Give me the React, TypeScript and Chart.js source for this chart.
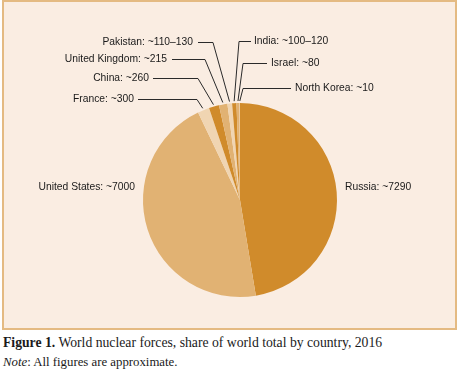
import React, { useEffect, useRef } from "react";
import { Chart, registerables } from "chart.js";

Chart.register(...registerables);

const countries = [
  "Russia",
  "United States",
  "France",
  "China",
  "United Kingdom",
  "Pakistan",
  "India",
  "Israel",
  "North Korea",
];
const warheads = [7290, 7000, 300, 260, 215, 120, 110, 80, 10];
const valueLabels = ["~7290", "~7000", "~300", "~260", "~215", "~110–130", "~100–120", "~80", "~10"];

const DARK = "#d08b2b";
const MID = "#e1b273";
const LIGHT = "#f0d5b2";
const sliceColors = [DARK, MID, LIGHT, DARK, MID, LIGHT, DARK, MID, LIGHT];

// label layout: text anchor (x, y, align) and optional elbow
type LabelLayout = { tx: number; ty: number; align: "left" | "right"; line?: [number, number, number] };
const labelLayout: LabelLayout[] = [
  { tx: 345, ty: 187, align: "left" },
  { tx: 135, ty: 187, align: "right" },
  { tx: 134, ty: 99, align: "right", line: [138, 197, 99] },
  { tx: 149, ty: 78, align: "right", line: [153, 198, 78] },
  { tx: 167, ty: 59, align: "right", line: [172, 205, 59] },
  { tx: 193, ty: 42, align: "right", line: [198, 213, 42] },
  { tx: 254, ty: 41, align: "left", line: [251, 239, 41] },
  { tx: 271, ty: 63, align: "left", line: [267, 243, 63] },
  { tx: 295, ty: 88, align: "left", line: [291, 243, 88] },
];

const labelPlugin = {
  id: "leaderLabels",
  afterDatasetsDraw(chart: any) {
    const ctx = chart.ctx as CanvasRenderingContext2D;
    const meta = chart.getDatasetMeta(0);
    ctx.save();
    ctx.font = '10.3px "Liberation Sans", Arial, sans-serif';
    ctx.fillStyle = "#1a1a1a";
    ctx.strokeStyle = "#2a2a2a";
    ctx.lineWidth = 1;
    ctx.textBaseline = "middle";
    meta.data.forEach((arc: any, i: number) => {
      const lay = labelLayout[i];
      const text = `${countries[i]}: ${valueLabels[i]}`;
      if (lay.line) {
        const [x0, xe, y] = lay.line;
        const mid = (arc.startAngle + arc.endAngle) / 2;
        const r = arc.outerRadius + 2;
        const px = arc.x + Math.cos(mid) * r;
        const py = arc.y + Math.sin(mid) * r;
        ctx.beginPath();
        ctx.moveTo(x0, y + 0.5);
        ctx.lineTo(xe, y + 0.5);
        ctx.lineTo(px, py);
        ctx.stroke();
      }
      ctx.textAlign = lay.align;
      ctx.fillText(text, lay.tx, lay.ty);
    });
    ctx.restore();
  },
};

function NuclearPie() {
  const ref = useRef<HTMLCanvasElement | null>(null);
  useEffect(() => {
    if (!ref.current) return;
    const chart = new Chart(ref.current, {
      type: "pie",
      data: {
        labels: countries,
        datasets: [
          {
            data: warheads,
            backgroundColor: sliceColors,
            borderWidth: 0,
          },
        ],
      },
      options: {
        animation: false,
        responsive: false,
        devicePixelRatio: 1,
        layout: { padding: { left: 143, right: 123, top: 103, bottom: 33 } },
        plugins: {
          legend: { display: false },
          tooltip: { enabled: false },
          title: { display: false },
        },
      },
      plugins: [labelPlugin],
    });
    return () => chart.destroy();
  }, []);
  return (
    <canvas
      ref={ref}
      width={460}
      height={330}
      style={{ position: "absolute", left: 0, top: 0, width: 460, height: 330 }}
    />
  );
}

export default function App() {
  useEffect(() => {
    document.body.style.margin = "0";
  }, []);
  return (
    <div style={{ position: "relative", width: 460, height: 373, background: "#ffffff", overflow: "hidden" }}>
      <div
        style={{
          position: "absolute",
          left: 2,
          top: 0,
          width: 451,
          height: 326,
          background: "#faede2",
          border: "2px solid #e4ba82",
        }}
      />
      <NuclearPie />
      <div
        style={{
          position: "absolute",
          left: 3,
          top: 334,
          fontFamily: '"Liberation Serif", "Times New Roman", serif',
          fontSize: 13.7,
          color: "#1a1a1a",
          whiteSpace: "nowrap",
          lineHeight: "17px",
        }}
      >
        <b>Figure 1.</b> World nuclear forces, share of world total by country, 2016
      </div>
      <div
        style={{
          position: "absolute",
          left: 3,
          top: 355,
          fontFamily: '"Liberation Serif", "Times New Roman", serif',
          fontSize: 12.8,
          color: "#1a1a1a",
          whiteSpace: "nowrap",
          lineHeight: "15px",
        }}
      >
        <i>Note</i>: All figures are approximate.
      </div>
    </div>
  );
}
